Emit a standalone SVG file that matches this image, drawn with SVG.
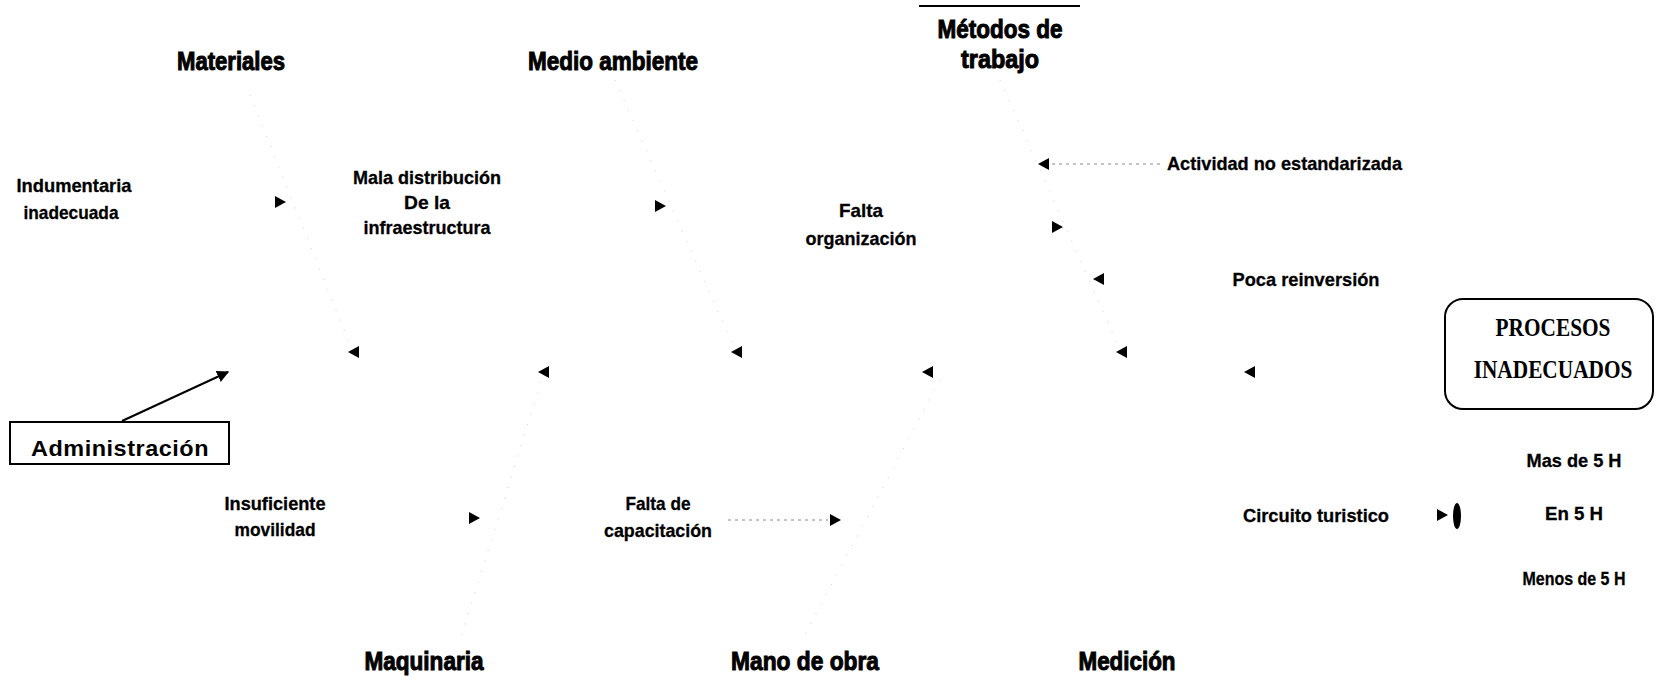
<svg xmlns="http://www.w3.org/2000/svg" width="1657" height="686" viewBox="0 0 1657 686">
<style>
.h{font-family:"Liberation Sans",Arial,sans-serif;font-weight:bold;font-size:26px;fill:#000;stroke:#000;stroke-width:1px;text-anchor:middle}
.t{font-family:"Liberation Sans",Arial,sans-serif;font-weight:bold;font-size:19px;fill:#000;stroke:#000;stroke-width:0.3px;text-anchor:middle}
.s{font-family:"Liberation Serif","Times New Roman",serif;font-weight:bold;font-size:26px;fill:#000;text-anchor:middle}
.a{font-family:"Liberation Sans",Arial,sans-serif;font-weight:bold;font-size:22px;fill:#000;text-anchor:middle;letter-spacing:0.5px}
.faint{fill:none;stroke:#cfcfcf;stroke-width:1;stroke-dasharray:1 10}
.dots{fill:none;stroke:#888;stroke-width:1;stroke-dasharray:3 4}
.box{fill:#fff;stroke:#000;stroke-width:2}
</style>
<defs>
<path id="ah" d="M-5,-6 L6,0 L-5,6 Z" fill="#000"/>
<marker id="m" viewBox="0 0 10 10" refX="9" refY="5" markerWidth="6" markerHeight="6" orient="auto"><path d="M0,0 L10,5 L0,10 Z" fill="#000"/></marker>
</defs>
<rect width="1657" height="686" fill="#fff"/>

<g id="connectors">
<path class="faint" d="M250,95 L350,345"/>
<path class="faint" d="M615,80 L733,345"/>
<path class="faint" d="M1000,80 L1118,345"/>
<path class="faint" d="M541,382 L460,640"/>
<path class="faint" d="M940,380 L802,640"/>
<path class="dots" d="M1052,164 L1162,164"/>
<path class="dots" d="M728,520 L828,520"/>
<line x1="122" y1="421" x2="228" y2="372" stroke="#000" stroke-width="2" marker-end="url(#m)"/>
<use href="#ah" x="280" y="202"/>
<use href="#ah" x="660" y="206"/>
<use href="#ah" x="1057" y="227"/>
<use href="#ah" x="474" y="518"/>
<use href="#ah" x="835" y="520"/>
<use href="#ah" x="1442" y="515"/>
<use href="#ah" transform="translate(1044,164) rotate(180)"/>
<use href="#ah" transform="translate(1099,279) rotate(180)"/>
<use href="#ah" transform="translate(354,352) rotate(180)"/>
<use href="#ah" transform="translate(544,372) rotate(180)"/>
<use href="#ah" transform="translate(737,352) rotate(180)"/>
<use href="#ah" transform="translate(928,372) rotate(180)"/>
<use href="#ah" transform="translate(1122,352) rotate(180)"/>
<use href="#ah" transform="translate(1250,372) rotate(180)"/>
<ellipse cx="1457" cy="516" rx="4" ry="13" fill="#000"/>
</g>

<g id="materiales"><text class="h" x="231" y="70" textLength="108" lengthAdjust="spacingAndGlyphs">Materiales</text></g>
<g id="medio-ambiente"><text class="h" x="613" y="70" textLength="170" lengthAdjust="spacingAndGlyphs">Medio ambiente</text></g>
<g id="metodos">
<line x1="919" y1="6" x2="1080" y2="6" stroke="#000" stroke-width="2"/>
<text class="h" x="1000" y="38" textLength="125" lengthAdjust="spacingAndGlyphs">Métodos de</text>
<text class="h" x="1000" y="68" textLength="78" lengthAdjust="spacingAndGlyphs">trabajo</text>
</g>
<g id="maquinaria"><text class="h" x="424" y="670" textLength="119" lengthAdjust="spacingAndGlyphs">Maquinaria</text></g>
<g id="mano-de-obra"><text class="h" x="805" y="670" textLength="148" lengthAdjust="spacingAndGlyphs">Mano de obra</text></g>
<g id="medicion"><text class="h" x="1127" y="670" textLength="97" lengthAdjust="spacingAndGlyphs">Medición</text></g>

<g id="indumentaria">
<text class="t" x="74" y="192" textLength="115" lengthAdjust="spacingAndGlyphs">Indumentaria</text>
<text class="t" x="71" y="219" textLength="95" lengthAdjust="spacingAndGlyphs">inadecuada</text>
</g>
<g id="mala-distribucion">
<text class="t" x="427" y="184" textLength="148" lengthAdjust="spacingAndGlyphs">Mala distribución</text>
<text class="t" x="427" y="209" textLength="46" lengthAdjust="spacingAndGlyphs">De la</text>
<text class="t" x="427" y="234" textLength="127" lengthAdjust="spacingAndGlyphs">infraestructura</text>
</g>
<g id="falta-organizacion">
<text class="t" x="861" y="217" textLength="44" lengthAdjust="spacingAndGlyphs">Falta</text>
<text class="t" x="861" y="245" textLength="111" lengthAdjust="spacingAndGlyphs">organización</text>
</g>
<g id="actividad"><text class="t" x="1167" y="170" style="text-anchor:start" textLength="235" lengthAdjust="spacingAndGlyphs">Actividad no estandarizada</text></g>
<g id="poca-reinversion"><text class="t" x="1306" y="286" textLength="147" lengthAdjust="spacingAndGlyphs">Poca reinversión</text></g>
<g id="insuficiente-movilidad">
<text class="t" x="275" y="510" textLength="101" lengthAdjust="spacingAndGlyphs">Insuficiente</text>
<text class="t" x="275" y="536" textLength="81" lengthAdjust="spacingAndGlyphs">movilidad</text>
</g>
<g id="falta-capacitacion">
<text class="t" x="658" y="510" textLength="65" lengthAdjust="spacingAndGlyphs">Falta de</text>
<text class="t" x="658" y="537" textLength="108" lengthAdjust="spacingAndGlyphs">capacitación</text>
</g>
<g id="circuito"><text class="t" x="1316" y="522" textLength="146" lengthAdjust="spacingAndGlyphs">Circuito turistico</text></g>
<g id="mas-5h"><text class="t" x="1574" y="467" textLength="95" lengthAdjust="spacingAndGlyphs">Mas de 5 H</text></g>
<g id="en-5h"><text class="t" x="1574" y="520" textLength="58" lengthAdjust="spacingAndGlyphs">En 5 H</text></g>
<g id="menos-5h"><text class="t" x="1574" y="585" textLength="103" lengthAdjust="spacingAndGlyphs">Menos de 5 H</text></g>

<g id="procesos">
<rect class="box" x="1445" y="299" width="208" height="110" rx="18"/>
<text class="s" transform="translate(1553,336) scale(0.82,1)">PROCESOS</text>
<text class="s" transform="translate(1553,378) scale(0.82,1)">INADECUADOS</text>
</g>
<g id="administracion">
<rect class="box" x="10" y="422" width="219" height="42"/>
<text class="a" x="120" y="456" textLength="178" lengthAdjust="spacingAndGlyphs">Administración</text>
</g>
</svg>
